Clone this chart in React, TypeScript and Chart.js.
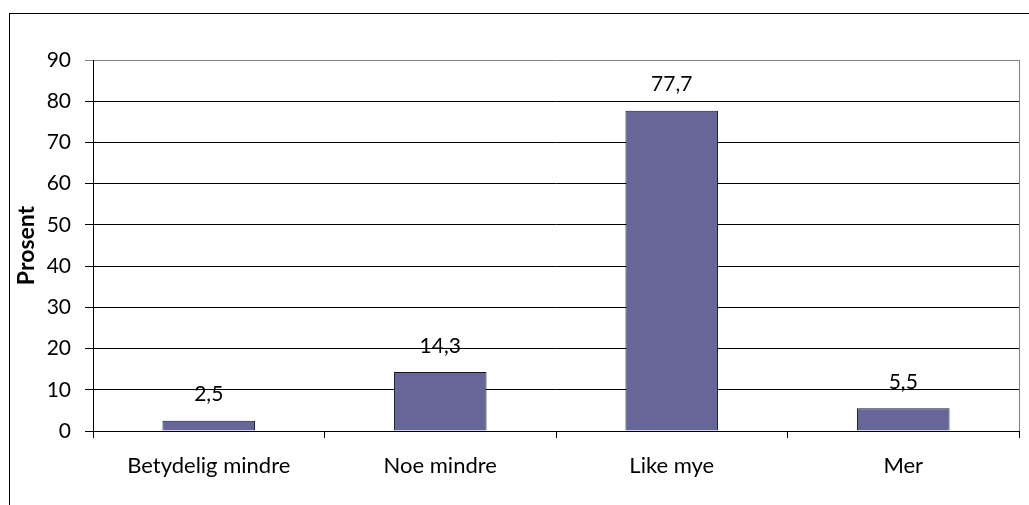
import React, { useEffect, useRef } from "react";
import { Chart, registerables } from "chart.js";

Chart.register(...registerables);

const categories = ["Betydelig mindre", "Noe mindre", "Like mye", "Mer"];
const values = [2.5, 14.3, 77.7, 5.5];
const valueLabels = ["2,5", "14,3", "77,7", "5,5"];
const yTitle = "Prosent";

const FONT = "Lato, 'Open Sans', sans-serif";

export default function App() {
  const ref = useRef<HTMLCanvasElement | null>(null);
  useEffect(() => {
    document.body.style.margin = "0";
    const canvas = ref.current!;
    const framePlugin = {
      id: "frame",
      beforeDraw(chart: any) {
        const ctx = chart.ctx;
        ctx.save();
        ctx.fillStyle = "#ffffff";
        ctx.fillRect(0, 0, chart.width, chart.height);
        ctx.restore();
      },
      afterDatasetsDraw(chart: any) {
        const ctx = chart.ctx;
        const area = chart.chartArea;
        ctx.save();
        ctx.strokeStyle = "#808080";
        ctx.lineWidth = 1;
        ctx.beginPath();
        ctx.moveTo(Math.round(area.right) + 0.5, area.top);
        ctx.lineTo(Math.round(area.right) + 0.5, area.bottom);
        ctx.stroke();
        const meta = chart.getDatasetMeta(0);
        ctx.fillStyle = "#000000";
        ctx.font = "21px " + FONT;
        ctx.textAlign = "center";
        ctx.textBaseline = "middle";
        meta.data.forEach((bar: any, i: number) => {
          ctx.fillText(valueLabels[i], bar.x, bar.y - 26);
        });
        ctx.restore();
      },
    };
    const chart = new Chart(canvas, {
      type: "bar",
      data: {
        labels: categories,
        datasets: [
          {
            data: values,
            backgroundColor: "#666699",
            borderColor: "#151530",
            borderWidth: 1,
            barPercentage: 0.4,
            categoryPercentage: 1,
          },
        ],
      },
      options: {
        responsive: false,
        animation: false,
        layout: { padding: { top: 60, right: 10, left: 0, bottom: 0 } },
        plugins: { legend: { display: false }, tooltip: { enabled: false } },
        scales: {
          x: {
            offset: true,
            grid: {
              offset: true,
              drawOnChartArea: false,
              drawTicks: true,
              tickLength: 7,
              color: "#000000",
            },
            border: { color: "#000000", width: 1 },
            ticks: { color: "#000000", font: { family: FONT, size: 22 }, padding: 15, maxRotation: 0 },
            afterFit(scale: any) {
              scale.height = 74;
            },
          },
          y: {
            min: 0,
            max: 90,
            ticks: { stepSize: 10, color: "#000000", font: { family: FONT, size: 21 }, padding: 14 },
            grid: {
              tickLength: 8,
              color: (c: any) => (c.tick && c.tick.value === 90 ? "#808080" : "#000000"),
            },
            border: { color: "#000000", width: 1 },
            title: {
              display: true,
              text: yTitle,
              color: "#000000",
              font: { family: FONT, size: 23, weight: "bold" },
              padding: { top: 13, bottom: 0 },
            },
            afterFit(scale: any) {
              scale.width = 93;
            },
          },
        },
      },
      plugins: [framePlugin],
    });
    return () => chart.destroy();
  }, []);
  return (
    <div style={{ position: "relative", width: 1029, height: 505, overflow: "hidden" }}>
      <canvas ref={ref} width={1029} height={505} style={{ display: "block" }} />
      <div
        style={{
          position: "absolute",
          left: 9,
          top: 13,
          width: 1040,
          height: 520,
          borderTop: "1px solid #000",
          borderLeft: "1px solid #000",
          pointerEvents: "none",
        }}
      />
    </div>
  );
}
